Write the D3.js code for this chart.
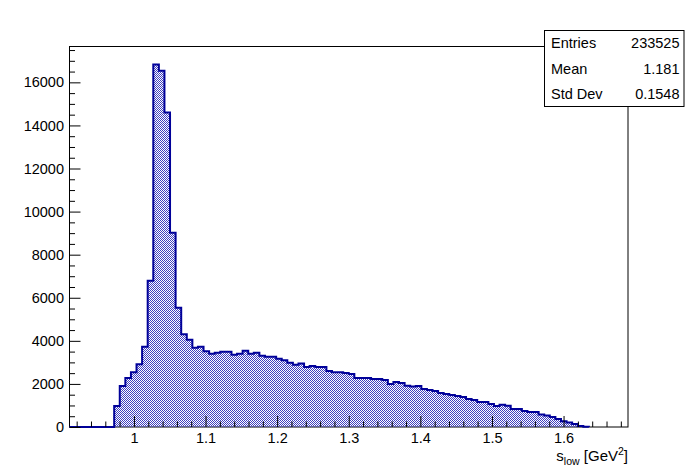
<!DOCTYPE html>
<html>
<head>
<meta charset="utf-8">
<script src="https://cdn.jsdelivr.net/npm/d3@7"></script>
<style>
  html, body { margin: 0; padding: 0; background: #fff; }
  svg { display: block; font-family: "Liberation Sans", Arial, Helvetica, sans-serif; }
</style>
</head>
<body>
<svg id="chart" width="698" height="475"></svg>
<script>
// ---- data ----
const binLow = 0.91;
const binHigh = 1.69;
const counts = [
  0, 0, 0, 0, 0, 0, 0, 0, 970, 1907,
  2279, 2544, 2916, 3721, 6791, 16823, 16544, 14605, 9023, 5535,
  4305, 4050, 3674, 3721, 3521, 3395, 3442, 3488, 3488, 3349,
  3395, 3535, 3395, 3442, 3302, 3256, 3256, 3163, 3102, 2977,
  2893, 2949, 2791, 2837, 2791, 2791, 2605, 2544, 2544, 2512,
  2465, 2279, 2279, 2279, 2233, 2233, 2186, 2000, 2093, 2047,
  1910, 1879, 1907, 1767, 1721, 1674, 1581, 1535, 1488, 1442,
  1395, 1302, 1256, 1163, 1163, 1070, 977, 1030, 985, 837,
  837, 744, 698, 698, 575, 530, 465, 372, 265, 204,
  140, 47, 10, 0, 0, 0, 0, 0, 0, 0
];
const xTickValues = [1.0, 1.1, 1.2, 1.3, 1.4, 1.5, 1.6];
const xTickLabels = ["1", "1.1", "1.2", "1.3", "1.4", "1.5", "1.6"];
const yTickValues = [0, 2000, 4000, 6000, 8000, 10000, 12000, 14000, 16000];
const statNames = ["Entries", "Mean", "Std Dev"];
const statValues = ["233525", "1.181", "0.1548"];

// ---- layout ----
const frame = { left: 69.5, right: 628, top: 46.5, bottom: 427 };
const lineColor = "#000099";
const fillColor = "#4040c0";
const svg = d3.select("#chart");

const nBins = counts.length;
const bw = (binHigh - binLow) / nBins;
const edges = d3.range(nBins + 1).map(i => binLow + i * bw);

const x = d3.scaleLinear().domain([binLow, binHigh]).range([frame.left, frame.right]);
const yMax = d3.max(counts) * 1.05;
const y = d3.scaleLinear().domain([0, yMax]).range([frame.bottom, frame.top]);

// hatch pattern (ROOT style 3001-like)
const defs = svg.append("defs");
const pat = defs.append("pattern")
  .attr("id", "hatch").attr("patternUnits", "userSpaceOnUse")
  .attr("width", 2).attr("height", 2);
pat.append("rect").attr("x", 0).attr("y", 0).attr("width", 1).attr("height", 1).attr("fill", fillColor);
pat.append("rect").attr("x", 1).attr("y", 1).attr("width", 1).attr("height", 1).attr("fill", fillColor);

// frame
svg.append("rect")
  .attr("x", frame.left).attr("y", frame.top)
  .attr("width", frame.right - frame.left).attr("height", frame.bottom - frame.top)
  .attr("fill", "none").attr("stroke", "#000").attr("stroke-width", 1);

// histogram
let lastNZ = 0;
counts.forEach((c, i) => { if (c > 0) lastNZ = i; });
const endBin = Math.min(nBins, lastNZ + 1);
let p = d3.path();
p.moveTo(x(edges[0]), y(0));
for (let i = 0; i < endBin; i++) {
  p.lineTo(x(edges[i]), y(counts[i]));
  p.lineTo(x(edges[i + 1]), y(counts[i]));
}
p.lineTo(x(edges[endBin]), y(0));
const pathStr = p.toString();
svg.append("path").attr("d", pathStr + "Z").attr("fill", "url(#hatch)").attr("stroke", "none");
svg.append("path").attr("d", pathStr).attr("fill", "none")
  .attr("stroke", lineColor).attr("stroke-width", 2).attr("stroke-linejoin", "miter");

// x axis ticks (inside, pointing up)
const gx = svg.append("g").attr("transform", `translate(0,${frame.bottom})`);
const xAxisMajor = d3.axisTop(x).tickValues(xTickValues).tickSize(11).tickFormat("");
const xMinorVals = d3.range(46, 85).map(k => k * 0.02).filter(v => v > binLow && v < binHigh && Math.abs(v * 10 - Math.round(v * 10)) > 1e-6);
const xAxisMinor = d3.axisTop(x).tickValues(xMinorVals).tickSize(5.5).tickFormat("");
gx.append("g").call(xAxisMinor);
gx.append("g").call(xAxisMajor);
gx.selectAll(".domain").remove();
gx.selectAll("line").attr("stroke", "#000").attr("stroke-width", 1);

// x tick labels
const gxl = svg.append("g").attr("transform", `translate(0,${frame.bottom})`)
  .call(d3.axisBottom(x).tickValues(xTickValues).tickSize(0).tickPadding(0)
    .tickFormat((d, i) => xTickLabels[i]));
gxl.selectAll(".domain").remove();
gxl.selectAll("text").attr("font-size", "14.5px").attr("font-family", "Liberation Sans, Arial, sans-serif")
  .attr("fill", "#000").attr("dy", null).attr("y", 15.5);

// y axis ticks (inside, pointing right)
const gy = svg.append("g").attr("transform", `translate(${frame.left},0)`);
const yMinorVals = d3.range(0, yMax, 500).filter(v => v % 2000 !== 0);
gy.append("g").call(d3.axisRight(y).tickValues(yMinorVals).tickSize(5.5).tickFormat(""));
gy.append("g").call(d3.axisRight(y).tickValues(yTickValues).tickSize(11).tickFormat(""));
gy.selectAll(".domain").remove();
gy.selectAll("line").attr("stroke", "#000").attr("stroke-width", 1);

const gyl = svg.append("g").attr("transform", `translate(${frame.left},0)`)
  .call(d3.axisLeft(y).tickValues(yTickValues).tickSize(0).tickPadding(5.5).tickFormat(d3.format("d")));
gyl.selectAll(".domain").remove();
gyl.selectAll("text").attr("font-size", "14.5px").attr("font-family", "Liberation Sans, Arial, sans-serif")
  .attr("fill", "#000");

// x axis title
const xt = svg.append("text").attr("x", frame.right).attr("y", 460.5)
  .attr("text-anchor", "end").attr("font-size", "15px").attr("fill", "#000");
xt.append("tspan").text("s");
xt.append("tspan").attr("font-size", "10.5px").attr("dy", 4).text("low");
xt.append("tspan").attr("dy", -4).text(" [GeV");
xt.append("tspan").attr("font-size", "10.5px").attr("dy", -6).text("2");
xt.append("tspan").attr("dy", 6).text("]");

// stats box
const box = { x: 544.5, y: 30.5, w: 139.5, h: 76 };
svg.append("rect").attr("x", box.x).attr("y", box.y).attr("width", box.w).attr("height", box.h)
  .attr("fill", "#fff").attr("stroke", "#000").attr("stroke-width", 1);
const rowH = box.h / statNames.length;
statNames.forEach((n, i) => {
  const by = box.y + rowH * i + rowH / 2 + 5;
  svg.append("text").attr("x", box.x + 6.5).attr("y", by).attr("font-size", "14.5px").attr("fill", "#000").text(n);
  svg.append("text").attr("x", box.x + box.w - 4.5).attr("y", by).attr("text-anchor", "end")
    .attr("font-size", "14.5px").attr("fill", "#000").text(statValues[i]);
});
</script>
</body>
</html>
